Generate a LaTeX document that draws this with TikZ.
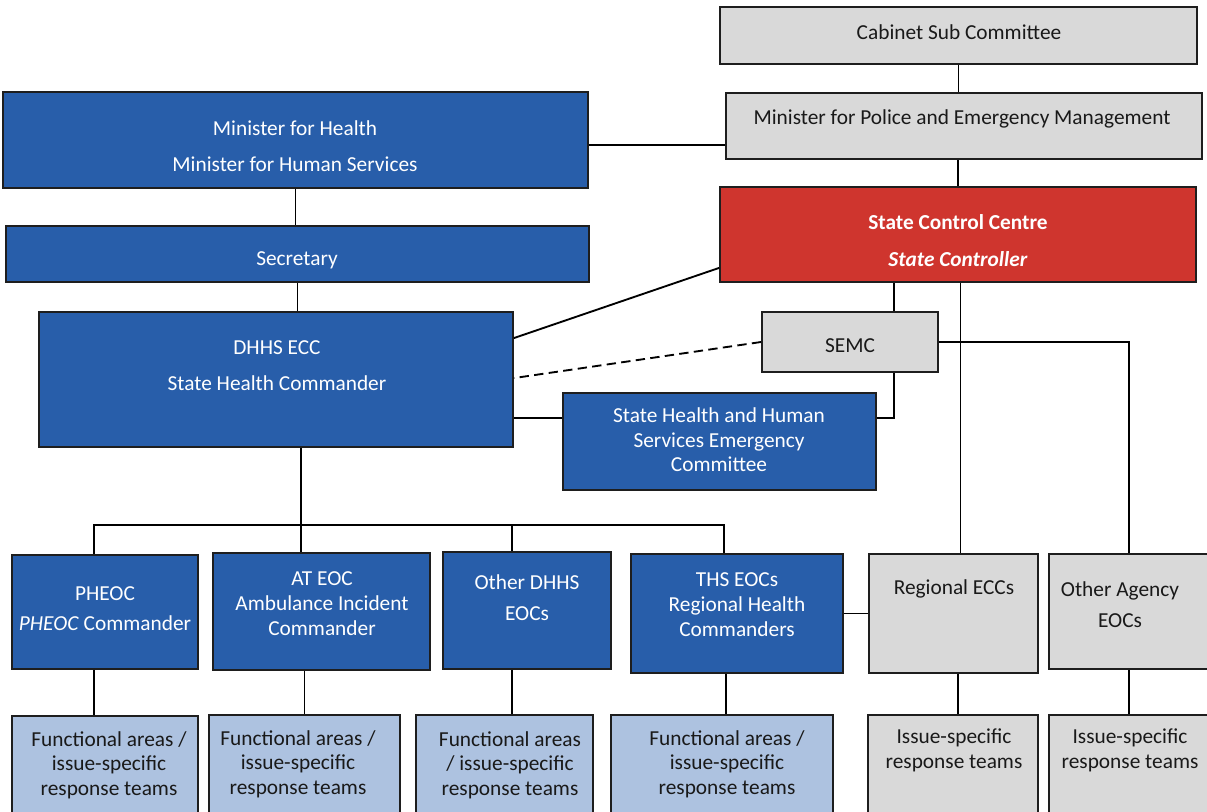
\documentclass[tikz,border=0pt]{standalone}
\usepackage{fontspec}
\setmainfont{Carlito}
\usepackage{xcolor}
\usetikzlibrary{calc}

\definecolor{dhblue}{RGB}{40,94,170}
\definecolor{sccred}{RGB}{207,53,46}
\definecolor{boxgray}{RGB}{217,217,217}
\definecolor{teamblue}{RGB}{173,194,224}
\definecolor{edge}{RGB}{30,30,30}

\tikzset{
  wh/.style 2 args={minimum width=#1*0.75pt, minimum height=#2*0.75pt},
  box/.style={draw=edge, line width=1.4pt, inner sep=0pt},
  bluebox/.style={box, fill=dhblue},
  redbox/.style={box, fill=sccred},
  graybox/.style={box, fill=boxgray},
  teambox/.style={box, fill=teamblue},
  wtxt/.style={text=white, align=center, inner sep=0pt, font=\fontsize{16}{18.5}\selectfont},
  btxt/.style={text=black!90, align=center, inner sep=0pt, font=\fontsize{16}{18.5}\selectfont},
  link/.style={line width=1.4pt, draw=black},
}

\begin{document}
\begin{tikzpicture}[x=0.75pt, y=-0.75pt]
    % Frame (pixel grid of the original)
    \useasboundingbox (0,0) rectangle (1207,812);
    \clip (0,0) rectangle (1207,812);

    % Emergency management side
    \node[graybox, wh={477}{57}] (cab) at (958.5,35.5) {};
    \node[graybox, wh={476}{66}] (mpol) at (964,126) {};
    \node[redbox, wh={476}{95}] (scc) at (958,234.5) {};
    \node[graybox, wh={176}{60}] (semc) at (850,342) {};

    \node[btxt] (cabT) at (959,32) {Cabinet Sub Committee};
    \node[btxt] (mpolT) at (962,119) {Minister for Police and Emergency Management};
    \node[wtxt] (sccT) at (958,240.5) {\textbf{State Control Centre}\\[9pt]\textbf{\textit{State Controller}}};
    \node[btxt] (semcT) at (850,346) {SEMC};

    % Health side
    \node[bluebox, wh={585}{96}] (minh) at (295.5,140) {};
    \node[bluebox, wh={583}{56}] (sec) at (297.5,254) {};
    \node[bluebox, wh={474}{135}] (ecc) at (276,379.5) {};
    \node[bluebox, wh={313}{97}] (shhs) at (719.5,441.5) {};

    \node[wtxt] (minhT) at (295,146) {Minister for Health\\[8.5pt]Minister for Human Services};
    \node[wtxt] (secT) at (297,260) {Secretary};
    \node[wtxt] (eccT) at (277,365.5) {DHHS ECC\\[9pt]State Health Commander};
    \node[wtxt] (shhsT) at (719,440) {State Health and Human\\Services Emergency\\Committee};

    % Operations centres
    \node[bluebox, wh={186}{114}] (pheoc) at (105,612) {};
    \node[bluebox, wh={217}{117}] (ateoc) at (321.5,611.5) {};
    \node[bluebox, wh={168}{117}] (odhhs) at (527,610.5) {};
    \node[bluebox, wh={212}{119}] (ths) at (737,613.5) {};
    \node[graybox, wh={169}{119}] (recc) at (953.5,613.5) {};
    \node[graybox, wh={160}{115}] (oag) at (1129,611.5) {};

    \node[wtxt] (pheocT) at (105,608.5) {PHEOC\\[4.5pt]\textit{PHEOC} Commander};
    \node[wtxt] (ateocT) at (322,603.5) {AT EOC\\Ambulance Incident\\Commander};
    \node[wtxt] (odhhsT) at (527,598) {Other DHHS\\[5pt]EOCs};
    \node[wtxt] (thsT) at (737,604.5) {THS EOCs\\Regional Health\\Commanders};
    \node[btxt] (reccT) at (954,589) {Regional ECCs};
    \node[btxt] (oagT) at (1120,605) {Other Agency\\[5pt]EOCs};

    % Response teams
    \node[teambox, wh={186}{114}] (fa1) at (105,773) {};
    \node[teambox, wh={191}{115}] (fa2) at (304.5,772.5) {};
    \node[teambox, wh={177}{115}] (fa3) at (504.5,772.5) {};
    \node[teambox, wh={222}{115}] (fa4) at (722,772.5) {};
    \node[graybox, wh={170}{115}] (is1) at (953,772.5) {};
    \node[graybox, wh={160}{115}] (is2) at (1129,772.5) {};

    \node[btxt] (fa1T) at (109,765) {Functional areas /\\issue-specific\\response teams};
    \node[btxt] (fa2T) at (298,764) {Functional areas /\\issue-specific\\response teams};
    \node[btxt] (fa3T) at (510,765) {Functional areas\\/ issue-specific\\response teams};
    \node[btxt] (fa4T) at (727,764) {Functional areas /\\issue-specific\\response teams};
    \node[btxt] (is1T) at (954,750.5) {Issue-specific\\response teams};
    \node[btxt] (is2T) at (1130,750.5) {Issue-specific\\response teams};

    % Top chain
    \draw[link] (cab.south) -- (cab.south |- mpol.north);
    \draw[link] (scc.north) -- (scc.north |- mpol.south);
    \draw[link] ($(minh.east)+(0,5)$) -- ($(mpol.west)+(0,19)$);
    \draw[link] (minh.south) -- (minh.south |- sec.north);
    \draw[link] (sec.south) -- (sec.south |- ecc.north);

    % Control centre links
    \draw[link] ($(scc.south west)+(0,-15)$) -- ($(ecc.north east)+(0,27)$);
    \draw[link, dash pattern=on 7pt off 4pt] (semc.west) -- ($(ecc.north east)+(0,67)$);
    \coordinate (sx) at ($(semc.north)+(44,0)$);
    \draw[link] (sx) -- (sx |- scc.south);
    \draw[link] ($(semc.south)+(44,0)$) |- ($(shhs.east)+(0,-23.5)$);
    \draw[link] ($(shhs.west)+(0,-23.5)$) -- ($(ecc.east)+(0,38.5)$);
    \draw[link] (semc.east) -| (oag.north);
    \coordinate (rx) at ($(recc.north)+(7,0)$);
    \draw[link] (rx) -- (rx |- scc.south);
    \draw[link] (ths.east) -- (recc.west);

    % Health bus
    \draw[link] ($(ecc.south)+(25,0)$) -- ++(0,77) coordinate (bus);
    \draw[link] ($(pheoc.north)+(-11,0)$) |- (bus) -| ($(ths.north)+(-13,0)$);
    \draw[link] (bus) -- (bus |- ateoc.north);
    \coordinate (od) at ($(odhhs.north)+(-15,0)$);
    \draw[link] (od) -- (od |- bus);

    % Down to the teams
    \draw[link] ($(pheoc.south)+(-11,0)$) -- ($(fa1.north)+(-11,0)$);
    \draw[link] (fa2.north) -- (fa2.north |- ateoc.south);
    \draw[link] ($(odhhs.south)+(-15,0)$) -- ($(fa3.north)+(7.5,0)$);
    \draw[link] ($(ths.south)+(-11,0)$) -- ($(fa4.north)+(4,0)$);
    \draw[link] ($(recc.south)+(4.5,0)$) -- ($(is1.north)+(5,0)$);
    \draw[link] (oag.south) -- (is2.north);
\end{tikzpicture}
\end{document}
